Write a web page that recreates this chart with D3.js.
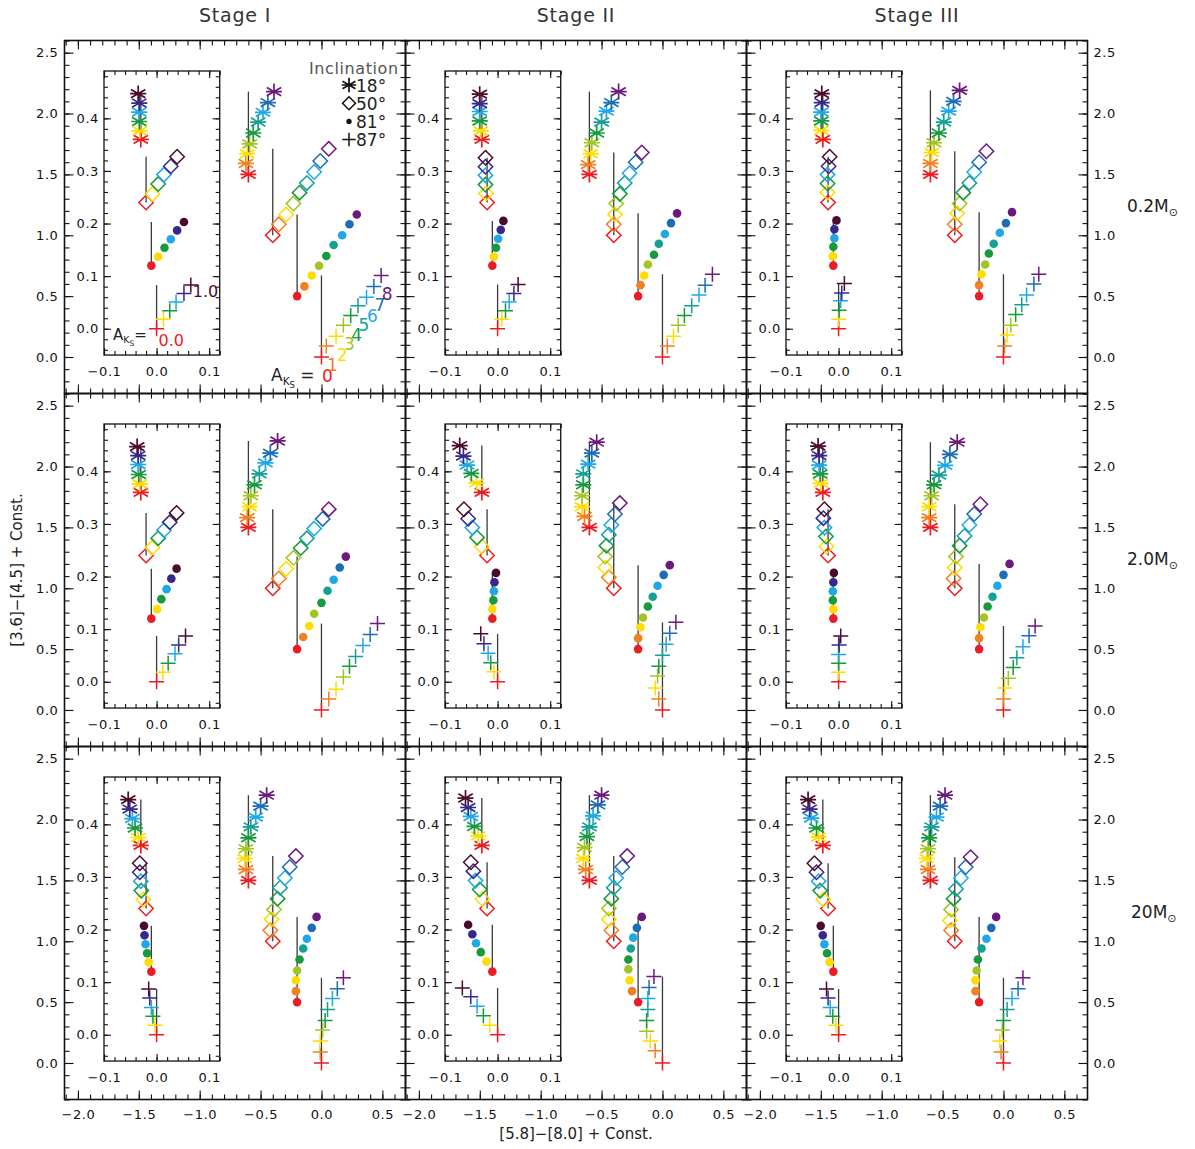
<!DOCTYPE html>
<html>
<head>
<meta charset="utf-8">
<script src="https://cdn.jsdelivr.net/npm/d3@7"></script>
<style>
  body { margin: 0; background: #fff; }
  text { font-family: "DejaVu Sans", sans-serif; }
</style>
</head>
<body>
<svg id="chart" width="1195" height="1149"></svg>
<script>
// ---- labels -------------------------------------------------------------
const stages = ["Stage I", "Stage II", "Stage III"];
const masses = ["0.2", "2.0", "20"];
const inclinations = ["18°", "50°", "81°", "87°"];
const akOuter = [0, 1, 2, 3, 4, 5, 6, 7, 8];          // A_Ks steps, main plot
const akInset = [0.0, 0.2, 0.4, 0.6, 0.8, 1.0];        // A_Ks steps, inset
const xTickMajor = [-2.0, -1.5, -1.0, -0.5, 0.0, 0.5];
const yTickMajor = [0.0, 0.5, 1.0, 1.5, 2.0, 2.5];
const ixTickMajor = [-0.1, 0.0, 0.1];
const iyTickMajor = [0.0, 0.1, 0.2, 0.3, 0.4];

const colorsOuter = ["#ec1c24", "#f47f20", "#ffdc00", "#a2c523", "#169a3c", "#14a094", "#1ea9e6", "#1c6db6", "#6b1a7c"];
const colorsInset = ["#ec1c24", "#ffdc00", "#169a3c", "#1ea9e6", "#36288c", "#4a0c2c"];

// ---- colour-colour tracks, panels ordered row by row (mass) then stage ----
// main plot, one [x, y] per A_Ks step
const outer18 = [
  [[-0.60,1.50],[-0.62,1.59],[-0.61,1.67],[-0.59,1.75],[-0.56,1.84],[-0.52,1.93],[-0.48,2.01],[-0.44,2.09],[-0.39,2.18]],
  [[-0.60,1.50],[-0.61,1.58],[-0.59,1.67],[-0.58,1.76],[-0.54,1.84],[-0.50,1.93],[-0.46,2.02],[-0.42,2.09],[-0.36,2.18]],
  [[-0.60,1.50],[-0.60,1.59],[-0.59,1.68],[-0.57,1.76],[-0.53,1.84],[-0.49,1.93],[-0.45,2.02],[-0.41,2.10],[-0.36,2.19]],
  [[-0.60,1.50],[-0.61,1.58],[-0.59,1.67],[-0.58,1.76],[-0.55,1.85],[-0.51,1.94],[-0.46,2.03],[-0.42,2.11],[-0.36,2.21]],
  [[-0.60,1.50],[-0.64,1.59],[-0.66,1.67],[-0.66,1.76],[-0.65,1.85],[-0.65,1.94],[-0.61,2.02],[-0.58,2.11],[-0.54,2.20]],
  [[-0.60,1.50],[-0.61,1.58],[-0.61,1.67],[-0.59,1.76],[-0.57,1.85],[-0.53,1.93],[-0.48,2.01],[-0.44,2.10],[-0.38,2.20]],
  [[-0.60,1.50],[-0.62,1.59],[-0.63,1.68],[-0.62,1.76],[-0.60,1.85],[-0.58,1.94],[-0.54,2.02],[-0.50,2.11],[-0.45,2.20]],
  [[-0.60,1.50],[-0.63,1.59],[-0.65,1.68],[-0.64,1.77],[-0.62,1.86],[-0.60,1.94],[-0.57,2.03],[-0.53,2.12],[-0.50,2.20]],
  [[-0.60,1.50],[-0.62,1.59],[-0.63,1.68],[-0.62,1.76],[-0.61,1.85],[-0.59,1.94],[-0.55,2.02],[-0.52,2.11],[-0.48,2.20]]
];
const outer50 = [
  [[-0.40,1.00],[-0.35,1.09],[-0.29,1.17],[-0.23,1.26],[-0.18,1.35],[-0.12,1.43],[-0.06,1.52],[-0.01,1.61],[0.06,1.71]],
  [[-0.40,1.00],[-0.40,1.09],[-0.39,1.17],[-0.38,1.26],[-0.35,1.34],[-0.31,1.43],[-0.27,1.51],[-0.22,1.60],[-0.17,1.68]],
  [[-0.40,1.00],[-0.40,1.09],[-0.38,1.18],[-0.36,1.26],[-0.33,1.35],[-0.28,1.43],[-0.24,1.52],[-0.20,1.60],[-0.14,1.69]],
  [[-0.40,1.00],[-0.35,1.08],[-0.29,1.16],[-0.23,1.25],[-0.17,1.33],[-0.12,1.41],[-0.06,1.49],[0.01,1.57],[0.06,1.65]],
  [[-0.40,1.00],[-0.44,1.09],[-0.47,1.17],[-0.47,1.26],[-0.46,1.35],[-0.44,1.44],[-0.42,1.52],[-0.39,1.61],[-0.35,1.70]],
  [[-0.40,1.00],[-0.41,1.08],[-0.40,1.17],[-0.39,1.26],[-0.36,1.35],[-0.32,1.43],[-0.28,1.52],[-0.24,1.61],[-0.19,1.69]],
  [[-0.40,1.00],[-0.42,1.09],[-0.41,1.18],[-0.39,1.26],[-0.36,1.35],[-0.34,1.44],[-0.30,1.52],[-0.26,1.61],[-0.21,1.70]],
  [[-0.40,1.00],[-0.42,1.09],[-0.44,1.18],[-0.44,1.27],[-0.42,1.35],[-0.40,1.44],[-0.38,1.52],[-0.33,1.61],[-0.29,1.70]],
  [[-0.40,1.00],[-0.43,1.09],[-0.44,1.17],[-0.43,1.26],[-0.41,1.35],[-0.39,1.43],[-0.35,1.52],[-0.31,1.61],[-0.27,1.69]]
];
const outer81 = [
  [[-0.20,0.50],[-0.14,0.58],[-0.08,0.67],[-0.02,0.75],[0.04,0.83],[0.10,0.92],[0.17,1.00],[0.23,1.09],[0.29,1.17]],
  [[-0.20,0.50],[-0.18,0.59],[-0.15,0.67],[-0.12,0.76],[-0.07,0.84],[-0.03,0.93],[0.02,1.01],[0.07,1.10],[0.12,1.18]],
  [[-0.20,0.50],[-0.20,0.59],[-0.18,0.68],[-0.15,0.76],[-0.12,0.85],[-0.08,0.93],[-0.03,1.02],[0.02,1.10],[0.07,1.19]],
  [[-0.20,0.50],[-0.15,0.60],[-0.10,0.69],[-0.06,0.79],[0.00,0.88],[0.05,0.98],[0.10,1.07],[0.15,1.17],[0.20,1.26]],
  [[-0.20,0.50],[-0.20,0.59],[-0.18,0.68],[-0.16,0.76],[-0.12,0.85],[-0.08,0.93],[-0.04,1.02],[0.01,1.11],[0.06,1.19]],
  [[-0.20,0.50],[-0.20,0.59],[-0.19,0.68],[-0.16,0.76],[-0.13,0.85],[-0.09,0.93],[-0.05,1.02],[0.00,1.11],[0.05,1.20]],
  [[-0.20,0.50],[-0.21,0.59],[-0.21,0.68],[-0.20,0.76],[-0.18,0.85],[-0.15,0.94],[-0.12,1.02],[-0.08,1.11],[-0.04,1.20]],
  [[-0.20,0.50],[-0.25,0.59],[-0.27,0.68],[-0.28,0.77],[-0.28,0.85],[-0.26,0.94],[-0.24,1.03],[-0.21,1.11],[-0.17,1.20]],
  [[-0.20,0.50],[-0.23,0.59],[-0.23,0.68],[-0.22,0.76],[-0.21,0.85],[-0.18,0.94],[-0.14,1.02],[-0.10,1.11],[-0.06,1.20]]
];
const outer87 = [
  [[0.00,0.00],[0.04,0.09],[0.12,0.17],[0.18,0.26],[0.24,0.34],[0.30,0.42],[0.37,0.49],[0.43,0.58],[0.49,0.67]],
  [[0.00,0.00],[0.04,0.09],[0.09,0.17],[0.13,0.26],[0.18,0.34],[0.24,0.42],[0.30,0.51],[0.35,0.59],[0.41,0.68]],
  [[0.00,0.00],[0.01,0.09],[0.03,0.18],[0.06,0.26],[0.10,0.35],[0.15,0.43],[0.19,0.51],[0.25,0.60],[0.29,0.68]],
  [[0.00,0.00],[0.06,0.09],[0.12,0.17],[0.18,0.27],[0.23,0.36],[0.28,0.44],[0.34,0.53],[0.40,0.62],[0.46,0.71]],
  [[0.00,0.00],[-0.03,0.09],[-0.06,0.18],[-0.04,0.28],[-0.03,0.36],[0.00,0.45],[0.03,0.54],[0.06,0.63],[0.11,0.72]],
  [[0.00,0.00],[0.00,0.09],[0.01,0.18],[0.04,0.26],[0.08,0.35],[0.11,0.43],[0.16,0.52],[0.21,0.61],[0.26,0.69]],
  [[0.00,0.00],[-0.01,0.09],[-0.01,0.18],[0.01,0.27],[0.03,0.35],[0.05,0.44],[0.09,0.53],[0.13,0.61],[0.18,0.70]],
  [[0.00,0.00],[-0.06,0.10],[-0.10,0.18],[-0.13,0.26],[-0.13,0.35],[-0.12,0.44],[-0.12,0.53],[-0.11,0.62],[-0.07,0.71]],
  [[0.00,0.00],[-0.02,0.09],[-0.03,0.18],[-0.01,0.27],[0.00,0.35],[0.03,0.44],[0.07,0.53],[0.12,0.61],[0.16,0.70]]
];
// inset, low-extinction detail
const inset18 = [
  [[-0.030,0.360],[-0.032,0.376],[-0.033,0.394],[-0.033,0.412],[-0.033,0.429],[-0.035,0.447]],
  [[-0.030,0.360],[-0.032,0.376],[-0.034,0.395],[-0.034,0.413],[-0.034,0.428],[-0.034,0.446]],
  [[-0.030,0.360],[-0.033,0.377],[-0.033,0.395],[-0.033,0.412],[-0.032,0.430],[-0.032,0.447]],
  [[-0.030,0.360],[-0.032,0.376],[-0.034,0.394],[-0.035,0.413],[-0.035,0.430],[-0.037,0.447]],
  [[-0.030,0.360],[-0.040,0.378],[-0.050,0.396],[-0.058,0.412],[-0.065,0.429],[-0.072,0.449]],
  [[-0.030,0.360],[-0.034,0.377],[-0.035,0.395],[-0.037,0.412],[-0.037,0.430],[-0.039,0.448]],
  [[-0.030,0.360],[-0.035,0.375],[-0.041,0.393],[-0.046,0.411],[-0.051,0.429],[-0.054,0.447]],
  [[-0.030,0.360],[-0.037,0.378],[-0.044,0.396],[-0.051,0.415],[-0.056,0.432],[-0.061,0.450]],
  [[-0.030,0.360],[-0.038,0.376],[-0.042,0.393],[-0.052,0.412],[-0.055,0.429],[-0.058,0.447]]
];
const inset50 = [
  [[-0.020,0.240],[-0.008,0.256],[0.003,0.275],[0.014,0.293],[0.027,0.309],[0.039,0.327]],
  [[-0.020,0.240],[-0.022,0.257],[-0.023,0.274],[-0.023,0.292],[-0.023,0.308],[-0.023,0.325]],
  [[-0.020,0.240],[-0.021,0.259],[-0.021,0.276],[-0.021,0.293],[-0.019,0.309],[-0.017,0.327]],
  [[-0.020,0.240],[-0.008,0.255],[0.003,0.273],[0.014,0.288],[0.025,0.303],[0.038,0.321]],
  [[-0.020,0.240],[-0.030,0.257],[-0.039,0.274],[-0.048,0.293],[-0.056,0.310],[-0.064,0.328]],
  [[-0.020,0.240],[-0.023,0.257],[-0.024,0.276],[-0.027,0.293],[-0.029,0.311],[-0.027,0.328]],
  [[-0.020,0.240],[-0.025,0.257],[-0.029,0.274],[-0.030,0.292],[-0.032,0.309],[-0.032,0.326]],
  [[-0.020,0.240],[-0.029,0.258],[-0.034,0.276],[-0.042,0.293],[-0.046,0.311],[-0.051,0.328]],
  [[-0.020,0.240],[-0.029,0.257],[-0.035,0.274],[-0.038,0.292],[-0.042,0.309],[-0.046,0.326]]
];
const inset81 = [
  [[-0.010,0.120],[0.003,0.137],[0.015,0.154],[0.027,0.170],[0.039,0.187],[0.052,0.203]],
  [[-0.010,0.120],[-0.007,0.137],[-0.003,0.154],[0.001,0.171],[0.006,0.188],[0.011,0.205]],
  [[-0.010,0.120],[-0.011,0.138],[-0.010,0.156],[-0.008,0.172],[-0.008,0.189],[-0.004,0.206]],
  [[-0.010,0.120],[0.001,0.138],[0.009,0.157],[0.019,0.176],[0.028,0.196],[0.038,0.215]],
  [[-0.010,0.120],[-0.010,0.138],[-0.008,0.155],[-0.007,0.172],[-0.006,0.189],[-0.003,0.207]],
  [[-0.010,0.120],[-0.010,0.138],[-0.011,0.155],[-0.011,0.172],[-0.010,0.189],[-0.009,0.207]],
  [[-0.010,0.120],[-0.015,0.138],[-0.018,0.155],[-0.021,0.172],[-0.023,0.189],[-0.024,0.207]],
  [[-0.010,0.120],[-0.021,0.139],[-0.032,0.157],[-0.041,0.174],[-0.048,0.191],[-0.056,0.209]],
  [[-0.010,0.120],[-0.017,0.138],[-0.022,0.155],[-0.027,0.172],[-0.030,0.189],[-0.034,0.207]]
];
const inset87 = [
  [[0.000,0.000],[0.013,0.018],[0.025,0.034],[0.037,0.051],[0.052,0.067],[0.065,0.083]],
  [[0.000,0.000],[0.008,0.018],[0.015,0.034],[0.022,0.051],[0.031,0.067],[0.039,0.084]],
  [[0.000,0.000],[0.000,0.018],[0.001,0.035],[0.004,0.053],[0.006,0.068],[0.011,0.086]],
  [[0.000,0.000],[0.012,0.018],[0.022,0.035],[0.035,0.053],[0.042,0.070],[0.055,0.087]],
  [[0.000,0.000],[-0.007,0.019],[-0.013,0.036],[-0.018,0.054],[-0.026,0.072],[-0.032,0.091]],
  [[0.000,0.000],[0.000,0.018],[0.000,0.035],[0.000,0.052],[0.001,0.070],[0.004,0.087]],
  [[0.000,0.000],[-0.003,0.018],[-0.007,0.035],[-0.010,0.052],[-0.013,0.070],[-0.015,0.087]],
  [[0.000,0.000],[-0.015,0.018],[-0.027,0.036],[-0.039,0.054],[-0.051,0.072],[-0.067,0.089]],
  [[0.000,0.000],[-0.005,0.018],[-0.011,0.035],[-0.016,0.052],[-0.020,0.070],[-0.023,0.087]]
];

// ---- layout -------------------------------------------------------------
const PW = 341, PH = 353;
const colLeft = [64.5, 405.5, 746.5];
const rowTop = [40.5, 393.5, 746.5];
const xDom = [-2.11, 0.69], yDom = [-0.3, 2.6];
const ixDom = [-0.1, 0.12], iyDom = [-0.05, 0.49];
const IPX = 526;                        // inset pixels per unit
const insetDX = 39.5, insetDY = 30.5;   // inset offset inside a panel

const svg = d3.select("#chart");
const FONT = "'DejaVu Sans', sans-serif";

// marker shapes
const shapes = {
  star:    "M0,-8V8M-7.2,-4.2L7.2,4.2M-7.2,4.2L7.2,-4.2M-8,0H8",
  diamond: "M0,-7.2L7.2,0L0,7.2L-7.2,0Z",
  plus:    "M-7.5,0H7.5M0,-7.5V7.5"
};
const kinds = ["star", "diamond", "dot", "plus"];

function drawMarker(g, kind, px, py, color, scale = 1) {
  if (kind === "dot") {
    g.append("circle").attr("cx", px).attr("cy", py).attr("r", 4.3 * scale).attr("fill", color);
  } else {
    g.append("path").attr("d", shapes[kind])
      .attr("transform", `translate(${px},${py}) scale(${scale})`)
      .attr("fill", "none").attr("stroke", color)
      .attr("stroke-width", (kind === "star" ? 1.7 : 1.5) / scale);
  }
}

// range of minor tick values
function minorTicks(dom, step) {
  const a = Math.ceil(dom[0] / step - 1e-9), b = Math.floor(dom[1] / step + 1e-9);
  return d3.range(a, b + 1).map(k => +(k * step).toFixed(6));
}

const fmt = d => d3.format(".1f")(d).replace("-", "\u2212");

// four-sided inward ticks; label sides chosen by caller
function frameAxes(g, x, y, opt) {
  const [x0, x1] = x.range(), [y1, y0] = y.range();
  const sides = [
    ["bottom", `translate(0,${y1})`, opt.xMajor, opt.xMinor, opt.labelBottom],
    ["top", `translate(0,${y0})`, opt.xMajor, opt.xMinor, false],
    ["left", `translate(${x0},0)`, opt.yMajor, opt.yMinor, opt.labelLeft],
    ["right", `translate(${x1},0)`, opt.yMajor, opt.yMinor, opt.labelRight]
  ];
  const make = side => side === "bottom" ? d3.axisBottom(x) : side === "top" ? d3.axisTop(x) :
                       side === "left" ? d3.axisLeft(y) : d3.axisRight(y);
  sides.forEach(([side, tr, maj, minr, lab]) => {
    const isX = side === "bottom" || side === "top";
    const gm = g.append("g").attr("transform", tr)
      .call(make(side).tickValues(minr).tickSize(-opt.minorLen).tickFormat(""));
    gm.select(".domain").remove();
    const gM = g.append("g").attr("transform", tr)
      .call(make(side).tickValues(maj).tickSize(-opt.majorLen)
        .tickPadding(isX ? opt.padX : opt.padY).tickFormat(lab ? fmt : ""));
    gM.select(".domain").remove();
    [gm, gM].forEach(s => s.selectAll("line").attr("stroke", "#111").attr("stroke-width", 1.1));
    gM.selectAll("text").attr("font-family", FONT).attr("font-size", opt.fontSize)
      .attr("fill", "#111").attr("letter-spacing", "0.6px");
  });
  g.append("rect").attr("x", x0).attr("y", y0).attr("width", x1 - x0).attr("height", y1 - y0)
    .attr("fill", "none").attr("stroke", "#111").attr("stroke-width", opt.frameW);
}

// reference line at the A_Ks=0 colour, from the first to the last step
function drawGuide(g, x, y, pts) {
  g.append("line")
    .attr("x1", x(pts[0][0])).attr("x2", x(pts[0][0]))
    .attr("y1", y(pts[0][1])).attr("y2", y(pts[pts.length - 1][1]))
    .attr("stroke", "#3a3a3a").attr("stroke-width", 1.3);
}
function drawMarkers(g, x, y, pts, kind, colors) {
  pts.forEach((p, k) => drawMarker(g, kind, x(p[0]), y(p[1]), colors[k]));
}

const outerSets = [outer18, outer50, outer81, outer87];
const insetSets = [inset18, inset50, inset81, inset87];

for (let i = 0; i < 9; i++) {
  const r = Math.floor(i / 3), c = i % 3;
  const L = colLeft[c], T = rowTop[r];
  const g = svg.append("g");
  const x = d3.scaleLinear().domain(xDom).range([L, L + PW]);
  const y = d3.scaleLinear().domain(yDom).range([T + PH, T]);

  frameAxes(g, x, y, {
    xMajor: xTickMajor, xMinor: minorTicks(xDom, 0.1),
    yMajor: yTickMajor, yMinor: minorTicks(yDom, 0.1),
    labelBottom: r === 2, labelLeft: c === 0, labelRight: c === 2,
    majorLen: 9, minorLen: 5, padX: 10, padY: 6, fontSize: 13, frameW: 1.6
  });

  // inset
  const iL = L + insetDX, iT = T + insetDY;
  const ix = d3.scaleLinear().domain(ixDom).range([iL, iL + (ixDom[1] - ixDom[0]) * IPX]);
  const iy = d3.scaleLinear().domain(iyDom).range([iT + (iyDom[1] - iyDom[0]) * IPX, iT]);
  const gi = svg.append("g");
  frameAxes(gi, ix, iy, {
    xMajor: ixTickMajor, xMinor: minorTicks(ixDom, 0.02),
    yMajor: iyTickMajor, yMinor: minorTicks(iyDom, 0.02),
    labelBottom: true, labelLeft: true, labelRight: false,
    majorLen: 7, minorLen: 4, padX: 12, padY: 5, fontSize: 13, frameW: 1.3
  });

  // tracks
  const gl = svg.append("g"), gp = svg.append("g");
  kinds.forEach((kind, s) => {
    drawGuide(gl, x, y, outerSets[s][i]);
    drawGuide(gl, ix, iy, insetSets[s][i]);
  });
  kinds.forEach((kind, s) => {
    drawMarkers(gp, x, y, outerSets[s][i], kind, colorsOuter);
    drawMarkers(gp, ix, iy, insetSets[s][i], kind, colorsInset);
  });

  // annotations for the first panel
  if (i === 0) {
    const ga = svg.append("g").attr("font-family", FONT);
    const pl = outer87[0];
    akOuter.forEach((a, k) => {
      ga.append("text").attr("x", x(pl[k][0]) + 6).attr("y", y(pl[k][1]) + 25)
        .attr("text-anchor", "middle").attr("font-size", 17).attr("fill", colorsOuter[k])
        .text(String(a));
    });
    const aks = (tx, ty, fs, eq) => {
      const t = ga.append("text").attr("x", tx).attr("y", ty).attr("font-size", fs).attr("fill", "#222");
      t.append("tspan").text("A");
      t.append("tspan").attr("font-size", fs * 0.62).attr("dy", fs * 0.22).text("K");
      t.append("tspan").attr("font-size", fs * 0.5).attr("dy", fs * 0.18).text("S");
      t.append("tspan").attr("dy", -fs * 0.4).text(eq);
    };
    aks(271, 381, 17, " =");
    aks(113, 340, 15, "=");
    const ip = inset87[0];
    ga.append("text").attr("x", ix(ip[0][0]) + 2).attr("y", iy(ip[0][1]) + 17)
      .attr("font-size", 16).attr("fill", colorsInset[0]).text(akInset[0].toFixed(1));
    ga.append("text").attr("x", ix(ip[5][0]) + 2).attr("y", iy(ip[5][1]) + 12)
      .attr("font-size", 16).attr("fill", colorsInset[5]).text(akInset[5].toFixed(1));

    // inclination key
    ga.append("text").attr("x", 309).attr("y", 74).attr("font-size", 16).attr("fill", "#555")
      .attr("letter-spacing", "0.6px").text("Inclination");
    kinds.forEach((kind, s) => {
      const yy = 85 + s * 18.2;
      drawMarker(ga, kind, 349, yy, "#111", kind === "dot" ? 0.62 : 0.9);
      ga.append("text").attr("x", 356).attr("y", yy + 6.5).attr("font-size", 17).attr("fill", "#222")
        .text(inclinations[s]);
    });
  }
}

// column titles
stages.forEach((s, c) => {
  svg.append("text").attr("x", colLeft[c] + PW / 2).attr("y", 22).attr("text-anchor", "middle")
    .attr("font-family", FONT).attr("font-size", 19).attr("letter-spacing", "0.8px").attr("fill", "#333").text(s);
});
// row labels (stellar mass)
masses.forEach((m, r) => {
  const t = svg.append("text").attr("x", m === "20" ? 1131 : 1127).attr("y", rowTop[r] + PH / 2 - 5)
    .attr("font-family", FONT).attr("font-size", 17).attr("fill", "#222");
  t.append("tspan").text(m + "M");
  t.append("tspan").attr("font-size", 11).attr("dy", 4).text("\u2299");
});
// axis titles
svg.append("text").attr("x", colLeft[1] + PW / 2).attr("y", 1139).attr("text-anchor", "middle")
  .attr("font-family", FONT).attr("font-size", 15).attr("fill", "#222").text("[5.8]\u2212[8.0] + Const.");
svg.append("text").attr("transform", `translate(22,${rowTop[1] + PH / 2}) rotate(-90)`)
  .attr("text-anchor", "middle").attr("font-family", FONT).attr("font-size", 15).attr("fill", "#222")
  .text("[3.6]\u2212[4.5] + Const.");
</script>
</body>
</html>
